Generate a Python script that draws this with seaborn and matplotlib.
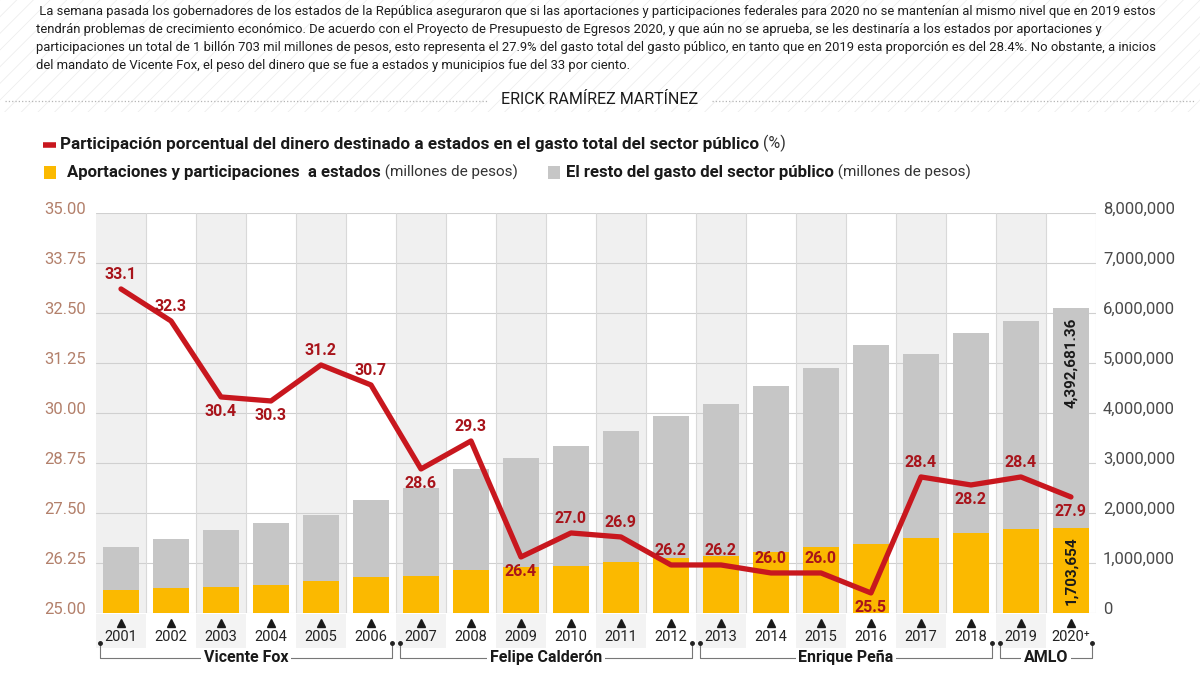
import numpy as np
import pandas as pd
import seaborn as sns
import matplotlib.pyplot as plt
import matplotlib.transforms as mtransforms
from matplotlib.patches import Rectangle
from matplotlib.ticker import FuncFormatter

# --- datos ---
years = ['2001', '2002', '2003', '2004', '2005', '2006', '2007', '2008', '2009', '2010',
         '2011', '2012', '2013', '2014', '2015', '2016', '2017', '2018', '2019', '2020⁺']
participacion = [33.1, 32.3, 30.4, 30.3, 31.2, 30.7, 28.6, 29.3, 26.4, 27.0,
                 26.9, 26.2, 26.2, 26.0, 26.0, 25.5, 28.4, 28.2, 28.4, 27.9]
aportaciones = [460000, 490000, 510000, 560000, 640000, 710000, 740000, 860000, 920000, 930000,
                1010000, 1090000, 1140000, 1210000, 1310000, 1380000, 1490000, 1590000, 1680000, 1703654]
resto = [850000, 980000, 1150000, 1240000, 1320000, 1550000, 1750000, 2020000, 2170000, 2410000,
         2630000, 2850000, 3040000, 3330000, 3590000, 3980000, 3690000, 4000000, 4160000, 4392681.36]
label_side = [1, 1, -1, -1, 1, 1, -1, 1, -1, 1, 1, 1, 1, 1, 1, -1, 1, -1, 1, -1]
sexenios = ['Vicente Fox', 'Felipe Calderón', 'Enrique Peña', 'AMLO']
sexenio_idx = [(0, 5), (6, 11), (12, 17), (18, 19)]

parrafo = [
    ' La semana pasada los gobernadores de los estados de la República aseguraron que si las aportaciones y participaciones federales para 2020 no se mantenían al mismo nivel que en 2019 estos',
    'tendrán problemas de crecimiento económico. De acuerdo con el Proyecto de Presupuesto de Egresos 2020, y que aún no se aprueba, se les destinaría a los estados por aportaciones y',
    'participaciones un total de 1 billón 703 mil millones de pesos, esto representa el 27.9% del gasto total del gasto público, en tanto que en 2019 esta proporción es del 28.4%. No obstante, a inicios',
    'del mandato de Vicente Fox, el peso del dinero que se fue a estados y municipios fue del 33 por ciento.',
]
autor = 'ERICK RAMÍREZ MARTÍNEZ'
leyenda_linea = 'Participación porcentual del dinero destinado a estados en el gasto total del sector público'
leyenda_amarillo = 'Aportaciones y participaciones  a estados'
leyenda_gris = 'El resto del gasto del sector público'

ROJO = '#c8171e'
ROJO_TXT = '#a8141b'
AMARILLO = '#fbb900'
GRIS = '#c6c6c6'

sns.set_theme(style='white')
plt.rcParams['font.family'] = ['Roboto', 'DejaVu Sans']

df = pd.DataFrame({'anio': years, 'aportaciones': aportaciones, 'resto': resto})
df['total'] = df['aportaciones'] + df['resto']
n = len(df)
pos = np.arange(n)

fig = plt.figure(figsize=(12, 6.75), dpi=100)
fig.patch.set_facecolor('white')

# capa de cabecera en pixeles
hd = fig.add_axes([0, 0, 1, 1], zorder=-1)
hd.set_xlim(0, 1200)
hd.set_ylim(675, 0)
hd.axis('off')
plt.rcParams['hatch.linewidth'] = 0.6
hd.add_patch(Rectangle((0, 0), 1200, 112, facecolor='white', edgecolor='#eeeeee', hatch='//', lw=0))

for k, line in enumerate(parrafo):
    hd.text(36, 12 + 18 * k, line, fontsize=9.35, va='center', ha='left', color='#1e1e1e')

hd.text(600, 99, autor, ha='center', va='center', fontsize=11.5, color='#1a1a1a')
hd.plot([5, 488], [101, 101], ls=':', color='#b5b5b5', lw=0.9)
hd.plot([712, 1195], [101, 101], ls=':', color='#b5b5b5', lw=0.9)

# leyenda
hd.plot([43, 56], [145, 145], color=ROJO, lw=4, solid_capstyle='butt')
t1 = hd.text(60, 145, leyenda_linea, va='center', fontsize=12.3, fontweight='bold', color='#1a1a1a')
hd.annotate(' (%)', xy=(1, 0), xycoords=t1, va='bottom', ha='left', fontsize=11.5, color='#333333')
hd.add_patch(Rectangle((44, 166), 12, 13, color=AMARILLO, lw=0))
t2 = hd.text(67, 172, leyenda_amarillo, va='center', fontsize=12.1, fontweight='bold', color='#1a1a1a')
hd.annotate(' (millones de pesos)', xy=(1, 0), xycoords=t2, va='bottom', ha='left', fontsize=11, color='#333333')
hd.add_patch(Rectangle((548, 166), 12, 13, color=GRIS, lw=0))
t3 = hd.text(566, 172, leyenda_gris, va='center', fontsize=12.1, fontweight='bold', color='#1a1a1a')
hd.annotate(' (millones de pesos)', xy=(1, 0), xycoords=t3, va='bottom', ha='left', fontsize=11, color='#333333')

# --- grafica principal ---
ax = fig.add_axes([0.08, 0.0919, 0.8333, 0.5926])
for i in pos:
    if i % 2 == 0:
        ax.axvspan(i - 0.5, i + 0.5, color='#f0f0f0', zorder=0, lw=0)
for b in np.arange(0.5, n, 1):
    ax.axvline(b, color='#d9d9d9', lw=0.8, zorder=0.6)

sns.barplot(data=df, x='anio', y='total', color=GRIS, width=0.72, saturation=1,
            ax=ax, zorder=2, linewidth=0)
sns.barplot(data=df, x='anio', y='aportaciones', color=AMARILLO, width=0.72, saturation=1,
            ax=ax, zorder=3, linewidth=0)

ax.set_xlim(-0.5, n - 0.5)
ax.set_ylim(0, 8e6)
ax.set_yticks(np.arange(0, 8e6 + 1, 1e6))
ax.yaxis.set_major_formatter(FuncFormatter(lambda v, p: f'{v:,.0f}'))
ax.set_axisbelow(True)
ax.yaxis.grid(True, color='#d0d0d0', lw=0.8)
ax.xaxis.grid(False)
ax.set_xticks([])
ax.set_xlabel('')
ax.set_ylabel('')
for s in ax.spines.values():
    s.set_visible(False)

axL = ax.twinx()
sns.lineplot(x=pos, y=participacion, ax=axL, color=ROJO, lw=3.8, zorder=4)
axL.set_ylim(25, 35)
axL.set_yticks(np.linspace(25, 35, 9))
axL.yaxis.set_major_formatter(FuncFormatter(lambda v, p: f'{v:.2f}'))
axL.yaxis.tick_left()
axL.set_ylabel('')
for s in axL.spines.values():
    s.set_visible(False)

ax.yaxis.tick_right()
ax.tick_params(axis='y', length=0, pad=5, labelsize=12, labelcolor='#4a4a4a')
axL.tick_params(axis='y', length=0, pad=7, labelsize=12, labelcolor='#b3806b')

shift = mtransforms.ScaledTranslation(0, 0.05, fig.dpi_scale_trans)
for t in ax.yaxis.get_major_ticks() + axL.yaxis.get_major_ticks():
    t.label1.set_transform(t.label1.get_transform() + shift)
    t.label2.set_transform(t.label2.get_transform() + shift)

for i, (v, s) in enumerate(zip(participacion, label_side)):
    axL.annotate(f'{v:.1f}', (i, v), xytext=(0, 10.5 * s), textcoords='offset points',
                 ha='center', va='center', fontsize=11.5, fontweight='bold', color=ROJO_TXT, zorder=5)

last = n - 1
ax.annotate(f'{df.resto.iloc[last]:,.2f}', (last, df.total.iloc[last]), xytext=(0, -7),
            textcoords='offset points', rotation=90, ha='center', va='top',
            fontsize=11, fontweight='bold', color='#1a1a1a', zorder=6)
ax.text(last, df.aportaciones.iloc[last] / 2, f'{df.aportaciones.iloc[last]:,.0f}', rotation=90,
        ha='center', va='center', fontsize=11, fontweight='bold', color='#1a1a1a', zorder=6)

# eje de años y sexenios
blend = mtransforms.blended_transform_factory(ax.transData, ax.transAxes)
for i in pos:
    if i % 2 == 0:
        ax.add_patch(Rectangle((i - 0.5, -0.088), 1, 0.086, transform=blend, color='#f3f3f3',
                               lw=0, clip_on=False))
ax.plot(pos, np.full(n, -0.026), transform=blend, ls='', marker='^', ms=6,
        color='#1a1a1a', clip_on=False)
for i, y in enumerate(years):
    ax.text(i, -0.06, y, transform=blend, ha='center', va='center', fontsize=10.5, color='#222222')

for name, (a, b) in zip(sexenios, sexenio_idx):
    x0, x1 = a - 0.42, b + 0.42
    ax.plot([x0, x0, x1, x1], [-0.075, -0.112, -0.112, -0.075], transform=blend,
            color='#777777', lw=0.8, clip_on=False)
    ax.plot([x0, x1], [-0.075, -0.075], transform=blend, ls='', marker='o', ms=2.5,
            color='#222222', clip_on=False)
    ax.text((a + b) / 2, -0.112, name, transform=blend, ha='center', va='center',
            fontsize=11.5, fontweight='bold', color='#1a1a1a',
            bbox=dict(fc='white', ec='none', pad=2))

fig.savefig('out.png', dpi=100)
